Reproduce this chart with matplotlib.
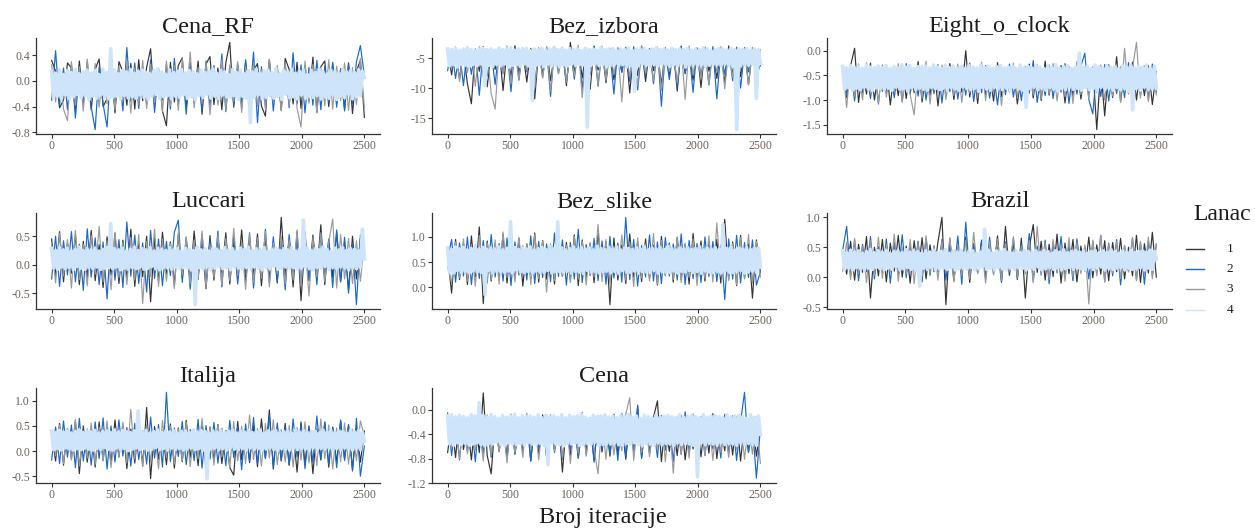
import numpy as np
import matplotlib
matplotlib.use("Agg")
import matplotlib.pyplot as plt
from matplotlib.lines import Line2D

plt.rcParams["font.family"] = ["Liberation Serif", "DejaVu Serif"]
plt.rcParams["axes.unicode_minus"] = False

# ---------------------------------------------------------------- data
n_iter = 2500
parameters = ["Cena_RF", "Bez_izbora", "Eight_o_clock", "Luccari",
              "Bez_slike", "Brazil", "Italija", "Cena"]
chain_labels = ["1", "2", "3", "4"]
chain_colors = ["#333333", "#1668d2", "#9a9a9a", "#cde4fb"]
x_tick_labels = ["0", "500", "1000", "1500", "2000", "2500"]

# thinned draws of each chain (chains 1..4); chain 4 is kept at a finer thinning
cena_rf = [
    [0.32, 0.15, -0.42, -0.30, 0.28, 0.20, -0.48, 0.31, -0.35, 0.22, -0.45, 0.18, 0.34, -0.40, -0.28, 0.25, -0.50, 0.30, 0.14, -0.38, 0.27, -0.44, 0.33, -0.31, 0.21, 0.50, -0.36, 0.19, -0.47, -0.70, 0.29, -0.33, 0.24, 0.36, -0.42, 0.17, -0.29, 0.31, -0.52, 0.26, 0.38, -0.37, 0.20, -0.45, 0.28, 0.60, -0.41, 0.23, -0.34, 0.30, -0.48, 0.16, 0.27, -0.39, -0.55, 0.33, -0.30, 0.21, -0.46, 0.35, 0.18, -0.36, 0.29, -0.43, 0.24, -0.32, 0.37, -0.49, 0.22, 0.31, -0.40, 0.26, -0.35, 0.19, -0.44, 0.28, -0.51, 0.15, 0.32, -0.57],
    [-0.30, 0.47, -0.38, 0.20, -0.45, 0.26, -0.58, 0.18, -0.33, 0.30, -0.41, -0.76, 0.22, -0.36, -0.72, 0.25, -0.40, 0.17, -0.47, 0.52, -0.32, 0.28, -0.43, 0.21, -0.37, 0.33, -0.49, 0.19, -0.30, 0.26, -0.44, 0.35, -0.38, 0.23, -0.52, 0.29, -0.35, 0.18, -0.46, 0.31, -0.40, 0.24, -0.33, 0.42, -0.48, 0.20, -0.37, 0.27, -0.43, 0.33, -0.31, 0.45, -0.65, 0.22, -0.39, 0.30, -0.47, 0.19, -0.34, 0.28, -0.42, 0.44, -0.36, 0.25, -0.50, 0.21, -0.38, 0.32, -0.45, 0.23, -0.33, 0.29, -0.41, 0.18, -0.47, 0.26, -0.36, 0.30, 0.55, 0.08],
    [0.25, -0.33, 0.19, -0.44, -0.62, 0.30, -0.38, 0.22, -0.47, 0.34, -0.29, 0.27, -0.41, 0.16, -0.36, 0.38, -0.45, 0.23, -0.31, 0.29, -0.50, 0.20, -0.37, 0.32, -0.43, 0.26, -0.34, 0.18, -0.48, 0.31, -0.39, 0.24, -0.46, 0.35, -0.30, 0.45, -0.42, 0.21, -0.35, 0.28, -0.53, 0.19, -0.38, 0.33, -0.44, 0.25, -0.32, 0.30, -0.49, 0.22, -0.36, 0.27, -0.40, 0.17, -0.45, 0.34, -0.33, 0.24, -0.47, 0.29, -0.38, 0.20, -0.43, -0.72, 0.31, -0.35, 0.26, -0.50, 0.18, -0.39, 0.33, -0.44, 0.23, -0.31, 0.28, -0.46, 0.21, -0.37, 0.35, -0.42],
    [0.15, -0.26, 0.12, -0.24, 0.17, -0.28, 0.10, -0.22, 0.16, -0.27, 0.13, -0.25, 0.18, -0.21, 0.11, -0.26, 0.14, -0.23, 0.17, -0.29,
     0.12, -0.24, 0.16, -0.27, 0.10, -0.22, 0.18, -0.25, 0.13, -0.28, 0.50, -0.26, 0.17, -0.24, 0.11, -0.28, 0.16, -0.23, 0.14, -0.27,
     0.18, -0.25, 0.12, -0.27, 0.15, -0.22, 0.17, -0.26, 0.13, -0.29, 0.11, -0.24, 0.16, -0.21, 0.19, -0.27, 0.14, -0.25, 0.10, -0.23,
     0.17, -0.28, 0.13, -0.24, 0.15, -0.26, 0.18, -0.22, 0.12, -0.27, 0.16, -0.25, 0.14, -0.29, 0.11, -0.23, 0.17, -0.26, 0.13, -0.21,
     0.15, -0.27, 0.19, -0.24, 0.12, -0.28, 0.16, -0.22, 0.14, -0.25, 0.10, -0.26, 0.18, -0.23, 0.13, -0.29, 0.17, -0.24, 0.11, -0.27,
     0.16, -0.65, 0.14, -0.25, 0.18, -0.22, 0.12, -0.28, 0.15, -0.26, 0.17, -0.23, 0.13, -0.27, 0.19, -0.24, 0.11, -0.29, 0.16, -0.21,
     0.14, -0.26, 0.18, -0.25, 0.12, -0.28, 0.15, -0.22, 0.17, -0.27, 0.10, -0.24, 0.16, -0.26, 0.13, -0.23, 0.19, -0.28, 0.14, -0.25,
     0.11, -0.27, 0.17, -0.22, 0.15, -0.29, 0.12, -0.24, 0.18, -0.26, 0.14, -0.21, 0.16, -0.28, 0.13, -0.25, 0.17, -0.23, 0.15, 0.05],
]
bez_izbora = [
    [-3.6, -7.8, -3.2, -8.5, -4.0, -9.3, -12.6, -3.5, -7.2, -3.1, -9.8, -3.8, -6.9, -3.3, -10.4, -3.7, -8.1, -3.0, -7.5, -3.9, -9.0, -3.4, -11.8, -3.6, -7.7, -3.2, -8.8, -4.1, -6.8, -3.5, -9.6, -2.4, -7.4, -3.3, -8.3, -3.8, -10.2, -3.1, -7.0, -3.6, -9.1, -3.4, -8.6, -3.9, -7.3, -3.2, -10.8, -3.7, -7.9, -3.0, -8.9, -3.5, -7.1, -3.8, -9.5, -3.3, -8.0, -3.6, -10.5, -3.1, -7.6, -3.9, -8.7, -3.4, -9.9, -3.2, -7.2, -3.7, -8.4, -3.5, -9.2, -3.0, -7.8, -3.6, -8.1, -3.3, -9.4, -3.8, -7.5, -6.2],
    [-7.1, -3.4, -8.4, -3.8, -9.6, -3.1, -7.7, -3.6, -11.2, -3.3, -8.0, -3.9, -9.4, -3.2, -7.5, -3.7, -10.6, -3.0, -8.7, -3.5, -7.3, -3.9, -9.9, -3.3, -8.2, -3.6, -11.4, -3.1, -7.6, -3.8, -9.1, -3.4, -8.5, -3.2, -10.1, -3.7, -7.8, -3.0, -9.7, -3.5, -8.3, -3.9, -11.0, -3.3, -7.4, -3.6, -8.9, -3.1, -10.3, -3.8, -7.9, -3.4, -9.3, -3.2, -13.0, -3.7, -8.6, -3.5, -9.8, -3.0, -7.5, -3.8, -10.7, -3.3, -8.1, -3.6, -9.5, -3.1, -11.8, -3.9, -7.7, -3.4, -8.8, -3.2, -10.0, -3.7, -7.3, -3.5, -8.4, -5.8],
    [-3.9, -6.9, -3.2, -8.9, -3.6, -7.4, -3.4, -9.7, -3.1, -8.2, -3.8, -10.9, -13.5, -3.5, -7.7, -3.0, -9.2, -3.7, -8.6, -3.3, -7.1, -3.9, -9.9, -3.4, -8.3, -3.1, -10.5, -3.6, -7.6, -3.2, -9.0, -3.8, -8.0, -2.9, -11.6, -3.5, -7.3, -3.7, -9.4, -3.0, -8.7, -3.4, -7.8, -3.9, -12.3, -3.3, -8.1, -3.6, -9.6, -3.1, -7.5, -3.8, -8.8, -3.2, -10.4, -3.5, -7.2, -3.7, -9.1, -3.4, -11.9, -3.0, -7.9, -3.6, -8.5, -3.3, -9.3, -3.9, -7.4, -3.1, -10.1, -3.5, -8.2, -3.8, -7.0, -3.4, -9.5, -3.2, -8.0, -3.6],
    [-3.5, -6.3, -3.6, -6.1, -3.4, -6.5, -3.7, -6.0, -3.5, -6.2, -3.3, -6.4, -3.6, -6.1, -3.8, -6.3, -3.5, -6.0, -3.4, -9.6,
     -3.6, -6.2, -3.5, -6.4, -3.7, -6.1, -3.4, -6.3, -3.6, -6.0, -3.5, -6.5, -3.3, -6.2, -3.7, -6.1, -3.5, -6.4, -3.6, -6.0,
     -3.4, -6.3, -3.8, -12.0, -3.5, -6.2, -3.6, -6.1, -3.4, -6.4, -3.7, -6.0, -3.5, -6.3, -3.3, -6.2, -3.6, -6.5, -3.5, -6.1,
     -3.7, -6.3, -3.4, -6.0, -3.6, -6.2, -3.5, -6.1, -3.8, -6.1, -3.4, -16.5, -3.6, -6.2, -3.5, -6.0, -3.7, -6.3, -3.3, -6.1,
     -3.6, -6.4, -3.5, -6.2, -3.4, -6.0, -3.7, -6.3, -3.5, -6.1, -3.6, -6.5, -3.4, -6.2, -3.8, -10.5, -3.5, -6.3, -3.6, -6.0,
     -3.4, -6.2, -3.7, -6.4, -3.5, -6.1, -3.3, -6.3, -3.6, -6.0, -3.5, -6.2, -3.7, -6.4, -3.4, -6.1, -3.6, -6.3, -3.5, -6.0,
     -3.6, -6.5, -3.4, -6.2, -3.7, -6.0, -3.5, -6.3, -3.6, -6.1, -3.3, -6.4, -3.5, -6.2, -3.8, -6.1, -3.6, -6.1, -3.4, -6.3,
     -3.5, -6.0, -3.7, -6.2, -3.4, -6.4, -3.6, -16.9, -3.5, -6.3, -3.6, -6.1, -3.4, -6.2, -3.7, -6.0, -3.5, -11.7, -3.6, -5.9],
]
eight_o_clock = [
    [-0.42, -0.95, -0.30, 0.05, -1.05, -0.38, -0.88, -0.25, -1.00, -0.44, -0.82, -0.33, -1.10, -0.40, -0.91, -0.28, -0.97, -0.36, -0.85, -0.22, -1.04, -0.45, -0.90, -0.31, -1.12, -0.39, -0.86, -0.26, -0.99, -0.43, -0.84, 0.00, -0.94, -0.35, -1.07, -0.29, -0.89, -0.41, -1.02, -0.24, -0.93, -0.37, -0.83, -0.32, -1.08, -0.46, -0.87, -0.27, -0.96, -0.34, -1.01, -0.21, -0.90, -0.40, -0.85, -0.30, -1.06, -0.38, -0.92, -0.25, -0.98, -0.43, -0.88, -0.33, -1.60, -0.36, -1.32, -0.28, -0.95, -0.12, -1.03, -0.39, -0.86, -0.23, -1.00, -0.35, -0.91, -0.30, -1.09, -0.42],
    [-0.30, -0.90, -0.38, -1.02, -0.27, -0.86, -0.44, -0.97, -0.33, -1.08, -0.29, -0.84, -0.41, -0.95, -0.35, -1.04, -0.26, -0.88, -0.39, -0.92, -0.31, -1.00, -0.43, -0.87, -0.28, -1.06, -0.36, -0.83, -0.32, -0.98, -0.40, -0.90, -0.25, -1.03, -0.37, -0.85, -0.30, -0.96, -0.45, -1.10, -0.34, -0.89, -0.27, -0.94, -0.38, -1.01, -0.32, -0.86, -0.20, -1.05, -0.42, -0.91, -0.29, -0.97, -0.35, -0.84, -0.26, -1.07, -0.39, -0.88, -0.31, -0.05, -0.99, -1.28, -0.36, -0.93, -0.28, -1.02, -0.41, -0.87, -0.33, -0.95, -0.24, -1.04, -0.37, -0.90, -0.30, -0.98, -0.27, -0.85],
    [-0.35, -1.15, -0.28, -0.92, -0.40, -1.00, -0.24, -0.87, -0.37, -1.06, -0.31, -0.94, -0.43, -0.83, -0.26, -1.03, -0.39, -0.89, -1.30, -0.33, -0.97, -0.21, -1.08, -0.36, -0.85, -0.29, -0.99, -0.42, -0.91, -0.27, -1.05, -0.34, -0.86, -0.38, -0.95, -0.23, -1.01, -0.41, -0.88, -0.30, -1.11, -0.36, -0.84, -0.25, -0.96, -0.39, -1.04, -0.32, -0.90, -0.28, -0.98, -0.44, -0.87, -0.26, -1.02, -0.37, -0.93, -0.31, -1.07, -0.22, -0.89, -0.40, -0.97, -0.34, -0.85, -0.29, -1.00, -0.38, -0.92, -0.27, -1.05, 0.05, -0.88, -0.35, 0.17, -0.96, -0.30, -1.03, -0.41, -0.90],
    [-0.32, -0.78, -0.35, -0.75, -0.30, -0.80, -0.34, -0.76, -0.31, -0.79, -0.36, -0.74, -0.29, -0.78, -0.33, -0.81, -0.35, -0.75, -0.31, -0.77,
     -0.34, -0.79, -0.30, -0.76, -0.36, -0.80, -0.32, -0.74, -0.35, -0.78, -0.28, -0.77, -0.33, -0.82, -0.30, -0.75, -0.36, -0.79, -0.32, -0.76,
     -0.34, -0.78, -0.31, -0.80, -0.35, -0.74, -0.29, -0.77, -0.33, -0.79, -0.36, -0.76, -0.30, -0.81, -0.34, -0.75, -0.31, -0.78, -0.35, -0.80,
     -0.32, -0.74, -0.36, -0.77, -0.30, -0.79, -0.33, -0.76, -0.35, -0.82, -0.29, -0.75, -0.34, -0.78, -0.31, -0.80, -0.36, -0.74, -0.32, -0.77,
     -0.30, -0.79, -0.35, -0.76, -0.33, -0.81, -0.31, -0.75, -0.36, -0.78, -0.29, -0.80, -0.34, -1.15, -0.32, -0.77, -0.35, -0.74, -0.30, -0.79,
     -0.33, -0.76, -0.36, -0.80, -0.31, -0.75, -0.34, -0.78, -0.28, -0.82, -0.35, -0.77, -0.32, -0.79, -0.30, -0.74, -0.36, -0.78, -0.33, -0.76,
     -0.05, -0.80, -0.34, -0.75, -0.31, -0.79, -0.36, -0.77, -0.29, -0.81, -0.33, -0.74, -0.35, -0.78, -0.30, -0.76, -0.34, -0.80, -0.32, -0.75,
     -0.36, -0.79, -0.31, -0.77, -0.33, -0.82, -0.30, -1.20, -0.35, -0.76, -0.32, -0.80, -0.34, -0.74, -0.29, -0.78, -0.36, -0.77, -0.31, -0.76],
]
luccari = [
    [0.45, -0.20, 0.58, -0.30, 0.38, -0.15, 0.52, -0.35, 0.41, -0.22, 0.60, -0.28, 0.35, -0.40, 0.49, -0.18, 0.55, -0.33, 0.43, -0.25, 0.62, -0.38, 0.37, -0.21, 0.50, -0.65, 0.46, -0.29, 0.57, -0.16, 0.40, -0.36, 0.53, -0.24, 0.44, -0.31, 0.59, -0.19, 0.36, -0.42, 0.51, -0.27, 0.47, -0.14, 0.56, -0.34, 0.39, -0.23, 0.61, -0.30, 0.42, -0.17, 0.54, -0.37, 0.48, -0.26, 0.38, -0.32, 0.83, -0.20, 0.45, -0.39, 0.58, -0.63, 0.41, -0.28, 0.52, -0.15, 0.70, -0.35, 0.44, -0.22, 0.57, -0.30, 0.40, -0.45, 0.50, -0.25, 0.46, 0.36],
    [-0.25, 0.50, -0.38, 0.42, -0.18, 0.58, -0.30, 0.36, -0.45, 0.63, -0.22, 0.47, -0.35, 0.40, -0.60, 0.55, -0.27, 0.44, -0.40, 0.75, -0.20, 0.52, -0.33, 0.38, -0.48, 0.60, -0.24, 0.45, -0.37, 0.41, -0.19, 0.57, 0.78, -0.31, 0.48, -0.43, 0.37, -0.26, 0.54, -0.36, 0.43, -0.21, 0.59, -0.39, 0.46, -0.28, 0.51, -0.34, 0.39, -0.17, 0.56, -0.41, 0.44, -0.23, 0.62, -0.32, 0.49, -0.29, 0.40, -0.44, 0.53, -0.19, 0.47, -0.37, 0.58, -0.26, 0.42, -0.35, 0.55, -0.22, 0.45, -0.40, 0.61, -0.30, 0.48, -0.50, 0.38, -0.70, 0.52, 0.15],
    [0.38, -0.32, 0.55, -0.20, 0.44, -0.41, 0.60, -0.26, 0.36, -0.37, 0.51, -0.17, 0.67, -0.30, 0.42, -0.44, 0.57, -0.23, 0.39, -0.35, 0.48, -0.27, 0.53, -0.68, 0.41, -0.21, 0.62, -0.38, 0.45, -0.29, 0.37, -0.42, 0.56, -0.18, 0.49, -0.33, 0.43, -0.25, 0.59, -0.40, 0.35, -0.22, 0.52, -0.36, 0.46, -0.28, 0.64, -0.19, 0.40, -0.43, 0.54, -0.31, 0.47, -0.24, 0.58, -0.39, 0.38, -0.16, 0.50, -0.34, 0.44, -0.27, 0.61, -0.37, 0.41, -0.55, 0.48, -0.21, 0.56, -0.30, 0.39, 0.80, -0.41, 0.53, -0.25, 0.46, -0.33, 0.42, -0.29, 0.37],
    [0.28, -0.06, 0.25, -0.08, 0.30, -0.04, 0.26, -0.07, 0.29, -0.05, 0.24, -0.09, 0.27, -0.03, 0.31, -0.06, 0.25, -0.08, 0.28, -0.05,
     0.26, -0.07, 0.29, -0.04, 0.24, -0.08, 0.27, -0.06, 0.30, -0.05, 0.72, -0.07, 0.28, -0.04, 0.26, -0.09, 0.29, -0.06, 0.24, -0.08,
     0.27, -0.05, 0.31, -0.07, 0.25, -0.04, 0.28, -0.08, 0.26, -0.06, 0.30, -0.03, 0.24, -0.07, 0.29, -0.09, 0.27, -0.05, 0.25, -0.06,
     0.30, -0.08, 0.26, -0.04, 0.28, -0.07, 0.24, -0.05, 0.29, -0.06, 0.27, -0.09, 0.25, -0.70, 0.31, -0.05, 0.26, -0.07, 0.28, -0.04,
     0.24, -0.08, 0.29, -0.06, 0.27, -0.03, 0.25, -0.07, 0.30, -0.05, 0.26, -0.09, 0.28, -0.04, 0.24, -0.06, 0.29, -0.08, 0.27, -0.05,
     0.31, -0.07, 0.25, -0.04, 0.28, -0.06, 0.26, -0.09, 0.30, -0.05, 0.24, -0.07, 0.27, -0.03, 0.29, -0.08, 0.25, -0.06, 0.28, -0.04,
     0.26, -0.07, 0.30, -0.05, 0.24, -0.08, 0.27, -0.06, 0.78, -0.04, 0.29, -0.07, 0.25, -0.09, 0.28, -0.05, 0.26, -0.06, 0.31, -0.03,
     0.27, -0.08, 0.24, -0.05, 0.29, -0.07, 0.26, -0.04, 0.30, -0.06, 0.25, -0.09, 0.28, -0.05, 0.27, -0.07, 0.24, -0.04, 0.62, 0.10],
]
bez_slike = [
    [0.62, -0.12, 0.95, 0.15, 0.88, 0.05, 1.02, 0.20, 1.20, -0.33, 0.92, 0.12, 0.85, 0.22, 1.05, 0.08, 0.90, 0.18, 0.97, 0.02, 0.86, 0.25, 1.08, 0.10, 0.93, 0.16, 0.82, 0.06, 1.00, 0.21, 0.89, 0.13, 1.04, 0.03, 0.94, 0.19, 0.87, 0.09, 1.10, 0.24, 0.91, -0.35, 0.98, 0.14, 0.84, 0.07, 1.06, 0.20, 0.90, 0.11, 0.96, 0.17, 0.83, 0.04, 1.01, 0.23, 0.88, 0.10, 0.99, 0.15, 0.85, 0.06, 1.07, 0.19, 0.92, 0.12, 0.87, 0.21, 0.95, 0.08, 1.35, 0.16, 0.90, 0.03, 1.03, 0.18, 0.86, -0.22, 0.94, 0.30],
    [0.55, 0.95, 0.10, 0.88, 0.22, 1.00, 0.05, 0.84, 0.17, 0.93, 0.08, 1.05, 0.20, 0.87, 0.12, 0.98, 0.03, 0.90, 0.24, 0.82, 0.14, 1.02, 0.07, 0.91, 0.19, 0.86, 0.11, 1.08, 0.21, 0.94, 0.04, 0.89, 0.16, 1.15, 0.09, 0.85, 0.23, 0.97, 0.13, 0.92, 0.06, 1.01, 0.18, 0.88, 0.10, 1.39, 0.15, 0.95, 0.02, 0.83, 0.20, 1.04, 0.12, 0.90, 0.07, 0.99, 0.22, 0.86, 0.14, 1.06, 0.05, 0.93, 0.17, 0.87, 0.09, 1.00, 0.21, 0.91, 0.11, 0.84, -0.25, 0.96, 0.16, 1.03, 0.08, 0.89, 0.19, 0.94, 0.04, 0.30],
    [0.40, 0.08, 0.90, 0.18, 0.96, 0.12, 0.85, 0.02, 1.03, 0.22, 0.88, 0.15, 0.94, 0.06, 1.10, 0.19, 0.83, 0.10, 0.99, 0.24, 0.87, 0.05, 1.05, 0.17, 0.92, -0.10, 0.86, 0.13, 0.97, 0.21, 0.84, 0.09, 1.01, 0.16, 0.91, 0.04, 0.89, 0.20, 1.25, 0.11, 0.95, 0.07, 0.82, 0.23, 1.04, 0.14, 0.90, 0.01, 0.98, 0.18, 0.86, 0.12, 1.07, 0.06, 0.93, 0.22, 0.85, 0.15, 1.00, 0.09, 0.88, 0.19, 0.96, 0.03, 0.84, 0.17, 1.02, 0.10, 1.28, 0.21, 0.92, 0.13, 0.87, 0.05, 0.99, 0.16, 1.05, 0.08, 0.91, 0.20],
    [0.78, 0.30, 0.75, 0.28, 0.80, 0.33, 0.76, 0.29, 0.79, 0.31, 0.74, 0.28, 0.77, 0.32, 0.81, 0.30, 0.76, 0.29, 0.79, -0.15,
     0.75, 0.33, 0.78, 0.28, 0.76, 0.31, 0.80, 0.30, 0.74, 0.29, 0.77, 0.32, 1.30, 0.28, 0.79, 0.34, 0.75, 0.30, 0.78, 0.29,
     0.76, 0.31, 0.80, 0.28, 0.74, 0.32, 0.77, 0.30, 0.79, 0.29, 0.75, 0.33, 0.81, 0.28, 0.76, 0.31, 1.30, 0.30, 0.78, 0.29,
     0.74, 0.32, 0.77, 0.28, 0.80, 0.31, 0.75, 0.30, 0.79, 0.27, 0.76, 0.33, 0.78, 0.29, 0.74, 0.31, 0.81, 0.28, 0.77, 0.30,
     0.75, 0.32, 0.79, 0.29, 0.76, 0.31, 0.80, 0.28, 0.74, 0.33, 0.78, 0.30, 0.77, 0.29, 0.75, 0.32, 0.79, 0.28, 0.76, 0.31,
     0.80, 0.30, 0.74, 0.29, 0.78, 0.33, 0.76, 0.28, 0.79, 0.31, 0.75, 0.30, 0.81, 0.29, 0.77, 0.32, 0.74, 0.28, 0.78, 0.31,
     0.76, 0.30, 0.79, 0.33, 0.75, 0.29, 0.77, 0.31, 0.80, 0.28, 0.74, 0.32, 0.78, 0.30, 0.76, 0.29, 0.79, 0.31, 0.75, 0.28,
     1.25, 0.32, 0.77, 0.30, 0.80, 0.29, 0.74, 0.31, 0.78, 0.33, 0.76, 0.28, 0.79, 0.30, 0.75, 0.32, 0.77, 0.29, 0.78, 0.40],
]
brazil = [
    [0.42, 0.05, 0.60, -0.05, 0.55, 0.08, 0.68, -0.35, 0.50, 0.02, 0.63, -0.08, 0.57, 0.10, 0.70, 0.00, 0.52, -0.10, 0.61, 0.06, 0.66, -0.03, 0.54, 0.09, 0.59, 1.00, -0.46, 0.64, -0.06, 0.51, 0.04, 0.67, -0.09, 0.56, 0.07, 0.62, -0.02, 0.53, 0.11, 0.69, -0.07, 0.85, 0.03, 0.58, -0.04, 0.65, -0.35, 0.50, 0.88, 0.08, 0.60, -0.05, 0.55, 0.01, 0.72, -0.10, 0.57, 0.06, 0.63, -0.08, 0.52, 0.10, 0.67, -0.01, 0.54, 0.05, 0.61, -0.06, 0.58, 0.09, 0.65, -0.03, 0.50, 0.02, 0.70, -0.09, 0.56, 0.07, 0.75, 0.00],
    [0.45, 0.85, 0.02, 0.62, -0.06, 0.55, 0.09, 0.68, -0.03, 0.51, 0.07, 0.64, -0.10, 0.58, 0.04, 0.71, -0.01, 0.53, 0.10, 0.60, -0.08, 0.66, 0.03, 0.52, 0.08, 0.63, -0.05, 0.57, 0.06, 0.69, -0.12, 0.92, 0.01, 0.54, 0.09, 0.61, -0.04, 0.67, 0.05, 0.50, -0.09, 0.59, 0.08, 0.65, -0.02, 0.56, 0.11, 0.73, -0.07, 0.52, 0.04, 0.62, -0.11, 0.58, 0.07, 0.68, 0.00, 0.55, -0.06, 0.64, 0.10, 0.51, -0.03, 0.60, 0.06, 0.70, -0.08, 0.57, 0.02, 0.63, -0.13, 0.53, 0.09, 0.66, -0.05, 0.59, -0.12, 0.61, 0.03, 0.55],
    [0.10, 0.58, -0.04, 0.65, 0.06, 0.52, -0.09, 0.61, 0.03, 0.67, -0.02, 0.55, 0.08, 0.72, -0.07, 0.50, 0.05, 0.63, -0.11, 0.57, 0.01, 0.69, 0.07, 0.53, -0.05, 0.60, 0.09, 0.66, -0.08, 0.54, 0.02, 0.62, -0.03, 0.75, 0.06, 0.51, -0.10, 0.59, 0.04, 0.64, -0.06, 0.56, 0.10, 0.68, -0.01, 0.52, 0.05, 0.61, -0.09, 0.85, 0.03, 0.57, -0.04, 0.63, 0.08, 0.50, -0.07, 0.66, 0.00, 0.58, 0.06, 0.54, -0.45, 0.62, 0.02, 0.70, -0.08, 0.55, 0.07, 0.60, -0.02, 0.53, 0.09, 0.65, -0.06, 0.59, 0.04, 0.67, -0.03, 0.56],
    [0.44, 0.13, 0.41, 0.15, 0.45, 0.12, 0.42, 0.16, 0.44, 0.14, 0.40, 0.12, 0.43, 0.15, 0.46, 0.13, 0.41, 0.16, 0.44, 0.14,
     0.42, 0.12, 0.45, 0.15, 0.40, 0.13, 0.43, 0.17, 0.44, 0.12, 0.41, 0.14, 0.46, 0.16, 0.42, 0.13, 0.45, 0.11, 0.43, -0.15,
     0.40, 0.15, 0.44, 0.13, 0.42, 0.16, 0.45, 0.12, 0.41, 0.14, 0.43, 0.15, 0.46, 0.13, 0.40, 0.16, 0.44, 0.12, 0.42, 0.14,
     0.45, 0.15, 0.41, 0.13, 0.43, 0.16, 0.44, 0.12, 0.40, 0.14, 0.42, 0.17, 0.80, 0.13, 0.45, 0.15, 0.41, 0.12, 0.44, 0.16,
     0.43, 0.14, 0.46, 0.12, 0.42, 0.15, 0.40, 0.13, 0.44, 0.16, 0.41, 0.14, 0.45, 0.12, 0.43, 0.15, 0.42, 0.13, 0.44, 0.17,
     0.41, 0.12, 0.45, 0.14, 0.43, 0.16, 0.40, 0.13, 0.44, 0.15, 0.42, 0.12, 0.46, 0.14, 0.41, 0.16, 0.43, 0.13, 0.45, 0.15,
     0.42, 0.14, 0.44, 0.12, 0.40, 0.16, 0.43, 0.13, 0.45, 0.15, 0.41, 0.17, 0.44, 0.12, 0.42, 0.14, 0.46, 0.13, 0.43, 0.15,
     0.40, 0.16, 0.44, 0.12, 0.42, 0.15, 0.45, 0.13, 0.41, 0.14, 0.43, 0.16, 0.44, 0.12, 0.42, 0.15, 0.45, 0.13, 0.43, 0.30],
]
italija = [
    [0.38, -0.20, 0.55, -0.28, 0.45, -0.15, 0.60, -0.45, 0.50, -0.22, 0.42, -0.32, 0.58, -0.18, 0.47, -0.26, 0.62, -0.12, 0.52, -0.35, 0.44, -0.24, 0.57, -0.30, 0.87, -0.55, 0.49, -0.16, 0.40, -0.27, 0.54, -0.34, 0.46, -0.21, 0.61, -0.13, 0.43, -0.29, 0.56, -0.38, 0.48, -0.19, 0.53, -0.25, 0.41, -0.33, -0.48, 0.59, -0.17, 0.45, -0.23, 0.51, -0.31, 0.64, -0.14, 0.82, -0.36, 0.47, -0.20, 0.55, -0.28, 0.39, -0.42, 0.58, -0.26, 0.50, -0.45, 0.44, -0.18, 0.57, -0.32, 0.48, -0.24, 0.60, -0.15, 0.52, -0.37, 0.46, -0.22, 0.40],
    [-0.18, 0.48, -0.25, 0.60, -0.12, 0.52, -0.33, 0.65, -0.20, 0.44, -0.28, 0.58, -0.15, 0.66, -0.36, 0.50, -0.22, 0.62, -0.10, 0.47, -0.30, 0.55, -0.17, 0.41, -0.26, 0.68, -0.14, 0.53, -0.32, 1.17, -0.21, 0.46, -0.11, 0.59, -0.27, 0.43, -0.19, 0.63, -0.34, 0.51, -0.16, 0.57, -0.24, 0.45, -0.29, 0.61, -0.13, 0.49, -0.37, 0.54, -0.20, 0.67, -0.25, 0.42, -0.15, 0.72, -0.31, 0.56, -0.18, 0.48, -0.28, 0.64, -0.12, 0.52, -0.35, 0.45, -0.22, 0.70, -0.16, 0.58, -0.26, 0.47, -0.33, 0.62, -0.19, 0.53, -0.40, 0.65, -0.50, 0.10],
    [0.35, -0.10, 0.52, -0.25, 0.45, -0.18, 0.63, -0.30, 0.40, -0.14, 0.56, -0.27, 0.48, -0.20, 0.60, -0.33, 0.43, -0.12, 0.58, -0.24, 0.83, -0.16, 0.46, -0.29, 0.54, -0.21, 0.39, -0.35, 0.61, -0.13, 0.50, -0.26, 0.44, -0.19, 0.57, -0.31, 0.42, -0.15, 0.65, -0.23, 0.47, -0.28, 0.53, -0.11, 0.41, -0.34, 0.59, -0.20, 0.49, -0.25, 0.72, -0.17, 0.45, -0.30, 0.55, -0.14, 0.62, -0.27, 0.43, -0.22, 0.51, -0.32, 0.47, -0.18, 0.58, -0.24, 0.40, -0.29, 0.64, -0.15, 0.52, -0.36, 0.46, -0.21, 0.56, -0.26, 0.44, -0.19, 0.60, 0.30],
    [0.40, 0.03, 0.37, 0.05, 0.41, 0.02, 0.38, 0.06, 0.40, 0.04, 0.36, 0.02, 0.39, 0.05, 0.42, 0.03, 0.37, 0.06, 0.40, 0.04,
     0.38, 0.02, 0.41, 0.05, 0.36, 0.03, 0.39, 0.07, 0.40, 0.04, 0.37, 0.02, 0.42, 0.06, 0.38, 0.03, 0.41, 0.05, 0.39, 0.01,
     0.37, 0.04, 0.40, 0.06, 0.80, 0.03, 0.38, 0.05, 0.41, 0.02, 0.36, 0.04, 0.39, 0.07, 0.42, 0.03, 0.37, 0.05, 0.40, 0.02,
     0.38, 0.06, 0.41, 0.03, 0.36, 0.05, 0.39, 0.02, 0.40, 0.04, 0.37, 0.06, 0.42, 0.03, 0.38, 0.05, 0.41, 0.02, 0.39, -0.55,
     0.36, 0.04, 0.40, 0.06, 0.38, 0.03, 0.41, 0.05, 0.37, 0.02, 0.39, 0.07, 0.42, 0.04, 0.36, 0.03, 0.40, 0.05, 0.38, 0.02,
     0.41, 0.06, 0.37, 0.03, 0.39, 0.05, 0.42, 0.02, 0.36, 0.04, 0.40, 0.06, 0.38, 0.03, 0.41, 0.01, 0.37, 0.05, 0.39, 0.04,
     0.40, 0.02, 0.36, 0.06, 0.42, 0.03, 0.38, 0.05, 0.41, 0.04, 0.37, 0.02, 0.39, 0.07, 0.40, 0.03, 0.36, 0.05, 0.42, 0.04,
     0.38, 0.06, 0.41, 0.02, 0.37, 0.05, 0.40, 0.03, 0.39, 0.06, 0.36, 0.04, 0.42, 0.02, 0.38, 0.05, 0.41, 0.03, 0.37, 0.20],
]
cena = [
    [-0.70, -0.20, -0.78, -0.12, -0.65, -0.25, -0.82, -0.15, -0.70, 0.28, -0.75, -1.05, -0.18, -0.68, -0.22, -0.80, -0.10, -0.72, -0.24, -0.66, -0.14, -0.84, -0.19, -0.71, -0.08, -0.77, -0.23, -0.64, -0.16, -1.02, -0.21, -0.74, -0.11, -0.79, -0.26, -0.67, -0.13, -0.83, -0.20, -0.69, -0.17, -0.76, -0.07, -0.73, -0.22, -0.81, -0.15, -0.66, 0.05, -0.78, -0.24, -0.70, -0.12, 0.15, -0.85, -0.18, -0.68, -0.21, -0.75, -0.09, -0.82, -0.25, -0.64, -0.14, -0.77, -0.19, -0.71, -0.06, -0.80, -0.23, -0.67, -0.16, -0.74, -0.11, -0.84, -0.20, -0.69, -0.13, -0.76, -0.30],
    [-0.05, -0.75, -0.18, -0.82, -0.12, -0.68, -0.22, -0.85, -0.09, -0.71, -0.26, -0.78, -0.14, -0.66, -0.20, -0.80, -0.07, -0.73, -0.24, -0.69, -0.11, -0.84, -0.17, -0.64, -0.21, -0.77, -0.08, -0.70, -0.25, -0.81, -0.13, -0.67, -0.19, -0.79, -0.04, -0.74, -0.23, -0.86, -0.10, -0.65, -0.16, -0.72, -0.22, -0.83, -0.06, -0.76, -0.18, -0.68, 0.08, -0.80, -0.12, -0.71, -0.25, -0.78, -0.09, -0.66, -0.20, -0.85, -0.15, -0.73, -0.03, -0.69, -0.24, -0.81, -0.11, -0.75, -0.17, -0.64, -0.21, -0.79, -0.07, -0.72, -0.14, -0.83, -0.19, 0.29, -0.70, -0.26, -1.12, -0.30],
    [-0.25, -0.62, -0.10, -0.80, -0.20, -0.72, -0.15, -0.66, -0.27, -0.84, -0.08, -0.75, -0.18, -0.69, -0.23, -0.87, -0.12, -0.70, -0.21, -0.78, -0.05, -0.65, -0.16, -0.82, -0.24, -0.73, -0.11, -0.68, -0.19, -0.79, -0.14, -0.88, -0.26, -0.71, -0.09, -0.76, -0.22, -0.64, -1.05, -0.17, -0.81, -0.13, -0.74, -0.25, -0.67, -0.07, 0.20, -0.83, -0.20, -0.70, -0.15, -0.77, -0.23, -0.66, -0.10, -0.85, -0.18, -1.04, -0.12, -0.72, -0.24, -0.79, -0.06, -0.68, -0.21, -0.75, -0.14, -0.83, -0.19, -0.70, -0.26, -0.78, -0.09, -0.65, -0.17, -0.81, -0.22, -0.73, -0.11, -0.88],
    [-0.10, -0.56, -0.08, -0.58, -0.12, -0.54, -0.09, -0.57, -0.11, -0.55, -0.13, -0.58, -0.08, -0.56, -0.10, -0.54, 0.12, -0.57, -0.09, -0.59,
     -0.12, -0.55, -0.08, -0.56, -0.11, -0.53, -0.14, -0.57, -0.09, -0.58, -0.12, -0.54, -0.10, -0.56, -0.07, -0.57, -0.13, -0.55, -0.09, -0.58,
     -0.11, -0.54, -0.10, -0.56, -0.12, -0.57, -0.08, -0.55, -0.13, -0.58, -0.09, -0.90, -0.11, -0.54, -0.10, -0.56, -0.12, -0.57, -0.08, -0.59,
     -0.13, -0.55, -0.09, -0.56, -0.11, -0.54, -0.10, -0.58, -0.07, -0.57, -0.12, -0.55, -0.14, -0.56, -0.09, -0.53, -0.11, -0.58, -0.10, -0.57,
     -0.08, -0.55, -0.12, -0.56, -0.10, -0.54, -0.13, -0.57, -0.09, -0.58, -0.11, -0.55, -0.07, -0.56, -0.12, -0.54, -0.10, -0.57, -0.14, -0.59,
     -0.09, -0.55, -0.11, -0.56, -0.13, -0.58, -0.08, -0.54, -0.12, -0.57, -0.10, -0.55, -0.09, -0.56, -0.11, -0.58, -0.13, -0.54, -0.08, -0.57,
     -0.12, -0.55, -0.10, -0.56, -0.09, -0.58, -0.11, -1.10, -0.13, -0.54, -0.08, -0.57, -0.12, -0.55, -0.10, -0.56, -0.09, -0.58, -0.11, -0.54,
     -0.13, -0.57, -0.08, -0.55, -0.12, -0.56, -0.10, -0.58, -0.09, -0.54, -0.11, -0.57, -0.14, -0.55, -0.08, -0.56, -0.12, -0.58, -0.10, -0.40],
]

# y tick labels of each panel
cena_rf_ticks = ["-0.8", "-0.4", "0.0", "0.4"]
bez_izbora_ticks = ["-15", "-10", "-5"]
eight_o_clock_ticks = ["-1.5", "-1.0", "-0.5", "0.0"]
luccari_ticks = ["-0.5", "0.0", "0.5"]
bez_slike_ticks = ["0.0", "0.5", "1.0"]
brazil_ticks = ["-0.5", "0.0", "0.5", "1.0"]
italija_ticks = ["-0.5", "0.0", "0.5", "1.0"]
cena_ticks = ["-1.2", "-0.8", "-0.4", "0.0"]

panel_chains = [cena_rf, bez_izbora, eight_o_clock, luccari,
                bez_slike, brazil, italija, cena]
panel_ticks = [cena_rf_ticks, bez_izbora_ticks, eight_o_clock_ticks, luccari_ticks,
               bez_slike_ticks, brazil_ticks, italija_ticks, cena_ticks]

# ---------------------------------------------------------------- layout (pixels)
W, H = 1255, 529
fig = plt.figure(figsize=(W / 100, H / 100), dpi=100)
fig.patch.set_facecolor("white")

col_x = [(36, 380), (432, 776), (827, 1172)]
row_y = [(38, 134), (213, 309), (388, 483)]
# chain 4 is drawn last and wide enough to close its central band
chain_widths = [0.85, 0.85, 0.85, 2.6]
text_col = "#1c1c1c"
tick_col = "#6b625a"
axis_col = "#333333"

for k, (name, chains, ticks) in enumerate(zip(parameters, panel_chains, panel_ticks)):
    r, c = divmod(k, 3)
    x0, x1 = col_x[c]
    y0, y1 = row_y[r]
    ax = fig.add_axes([x0 / W, 1 - y1 / H, (x1 - x0) / W, (y1 - y0) / H])
    for vals, col, lw in zip(chains, chain_colors, chain_widths):
        it = np.linspace(1, n_iter, len(vals))
        ax.plot(it, vals, color=col, lw=lw, solid_joinstyle="round")
    ax.margins(x=0.05, y=0.05)
    ax.set_xticks([float(t) for t in x_tick_labels])
    ax.set_xticklabels(x_tick_labels)
    ax.set_yticks([float(t) for t in ticks])
    ax.set_yticklabels(ticks)
    for side in ("top", "right"):
        ax.spines[side].set_visible(False)
    for side in ("left", "bottom"):
        ax.spines[side].set_color(axis_col)
        ax.spines[side].set_linewidth(0.9)
    ax.tick_params(axis="both", length=2.6, width=0.8, color=axis_col,
                   labelsize=8.5, labelcolor=tick_col, pad=1.8)
    ax.set_title(name, fontsize=17.5, color=text_col, pad=4)

fig.text(603 / W, 1 - 517 / H, "Broj iteracije", ha="center", va="center",
         fontsize=17.5, color=text_col)

# legend
fig.text(1193 / W, 1 - 215 / H, "Lanac", ha="left", va="center",
         fontsize=17, color=text_col)
legend_y = [249, 269, 289, 310]
for lab, col, yy in zip(chain_labels, chain_colors, legend_y):
    fig.add_artist(Line2D([1186 / W, 1204 / W], [1 - yy / H, 1 - yy / H],
                          transform=fig.transFigure, color=col, lw=1.0))
    fig.text(1230 / W, 1 - yy / H, lab, ha="center", va="center",
             fontsize=9.5, color=text_col)

fig.savefig("out.png", dpi=100, facecolor="white")
